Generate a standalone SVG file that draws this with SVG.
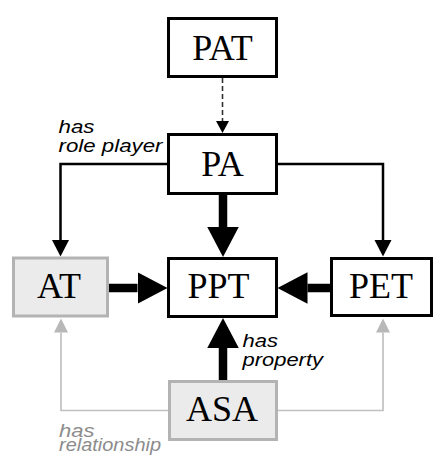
<svg xmlns="http://www.w3.org/2000/svg" width="434" height="460" viewBox="0 0 434 460">
<style>
.box{fill:#fff;stroke:#000;stroke-width:3}
.gbox{fill:#ebebeb;stroke:#b3b3b3;stroke-width:3}
.lbl{font-family:"Liberation Serif","Times New Roman",serif;font-size:36px;text-anchor:middle;fill:#000}
.ann{font-family:"Liberation Sans",Arial,sans-serif;font-size:18px;font-style:italic;fill:#000}
.gann{fill:#8c8c8c}
.thick{stroke:#000;stroke-width:8.5;fill:none}
.thin{stroke:#000;stroke-width:2.5;fill:none}
.dash{stroke:#333;stroke-width:1.6;stroke-dasharray:5 3;fill:none}
.gray{stroke:#c0c0c0;stroke-width:1.7;fill:none}
</style>
<defs>
<marker id="mThick" markerUnits="userSpaceOnUse" markerWidth="31" markerHeight="32" refX="0" refY="15.75" orient="auto"><path d="M0,0 L30,15.75 L0,31.5 z" fill="#000"/></marker>
<marker id="mThin" markerUnits="userSpaceOnUse" markerWidth="17" markerHeight="18" refX="0" refY="8.5" orient="auto"><path d="M0,0 L16.5,8.5 L0,17 z" fill="#000"/></marker>
<marker id="mDash" markerUnits="userSpaceOnUse" markerWidth="13" markerHeight="14" refX="0" refY="6.5" orient="auto"><path d="M0,0 L12,6.5 L0,13 z" fill="#000"/></marker>
<marker id="mGray" markerUnits="userSpaceOnUse" markerWidth="15" markerHeight="15" refX="0" refY="7" orient="auto"><path d="M0,0 L14,7 L0,14 z" fill="#b8b8b8"/></marker>
</defs>
<g id="connectors">
<line class="dash" x1="222.5" y1="78" x2="222.5" y2="121" marker-end="url(#mDash)"/>
<polyline class="thin" points="167,164 60.5,164 60.5,240" marker-end="url(#mThin)"/>
<polyline class="thin" points="278,164 383,164 383,240" marker-end="url(#mThin)"/>
<line class="thick" x1="223" y1="195" x2="223" y2="227" marker-end="url(#mThick)"/>
<line class="thick" x1="109" y1="288" x2="137.5" y2="288" marker-end="url(#mThick)"/>
<line class="thick" x1="330" y1="288" x2="307.5" y2="288" marker-end="url(#mThick)"/>
<line class="thick" x1="223" y1="380" x2="223" y2="348" marker-end="url(#mThick)"/>
<polyline class="gray" points="168,410.5 61,410.5 61,332.5" marker-end="url(#mGray)"/>
<polyline class="gray" points="278,410.5 383,410.5 383,332.5" marker-end="url(#mGray)"/>
<text class="ann" x="58.5" y="133.3" textLength="36" lengthAdjust="spacingAndGlyphs">has</text>
<text class="ann" x="58.5" y="151.7" textLength="104" lengthAdjust="spacingAndGlyphs">role player</text>
<text class="ann" x="242.5" y="346.7" textLength="35.5" lengthAdjust="spacingAndGlyphs">has</text>
<text class="ann" x="242.5" y="366" textLength="80.5" lengthAdjust="spacingAndGlyphs">property</text>
<text class="ann gann" x="59" y="436.5" textLength="35.5" lengthAdjust="spacingAndGlyphs">has</text>
<text class="ann gann" x="59" y="451" textLength="102" lengthAdjust="spacingAndGlyphs">relationship</text>
</g>
<g id="PAT"><rect class="box" x="168.5" y="18.5" width="108" height="58"/><text class="lbl" x="222.5" y="60">PAT</text></g>
<g id="PA"><rect class="box" x="168.5" y="134.5" width="108" height="59"/><text class="lbl" x="222.5" y="176">PA</text></g>
<g id="PPT"><rect class="box" x="168.5" y="258.5" width="108" height="58"/><text class="lbl" x="218.5" y="298">PPT</text></g>
<g id="AT"><rect class="gbox" x="13.5" y="258" width="94" height="58"/><text class="lbl" x="59" y="298">AT</text></g>
<g id="PET"><rect class="box" x="331.5" y="258.5" width="100" height="57"/><text class="lbl" x="381" y="298">PET</text></g>
<g id="ASA"><rect class="gbox" x="169.5" y="381.5" width="107" height="58"/><text class="lbl" x="222" y="421">ASA</text></g>
</svg>
